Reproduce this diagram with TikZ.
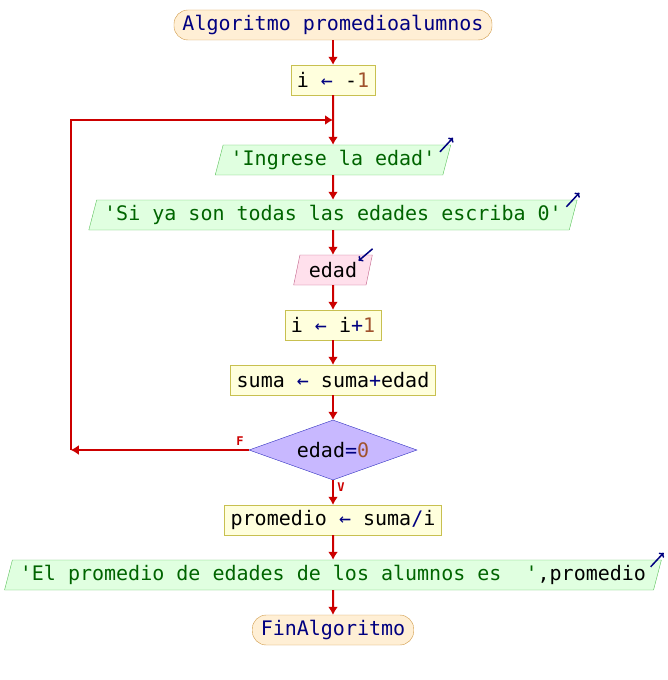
\documentclass[tikz,border=0pt]{standalone}
\usepackage{fontspec}
\setmonofont{DejaVu Sans Mono}
\usetikzlibrary{positioning, arrows.meta, shapes.geometric, calc}

\definecolor{flecha}{HTML}{CC0000}
\definecolor{azul}{HTML}{000080}
\definecolor{verde}{HTML}{006400}
\definecolor{cafe}{HTML}{A0522D}
\definecolor{rellenoini}{HTML}{FFEFD5}
\definecolor{bordeini}{HTML}{D09A48}
\definecolor{rellenoasig}{HTML}{FFFFDD}
\definecolor{bordeasig}{HTML}{C8C050}
\definecolor{rellenoesc}{HTML}{E0FFE0}
\definecolor{bordeesc}{HTML}{58C058}
\definecolor{rellenolee}{HTML}{FFE0EC}
\definecolor{bordelee}{HTML}{C06088}
\definecolor{rellenodec}{HTML}{C8B8FF}
\definecolor{bordedec}{HTML}{3030C0}

\begin{document}
\begin{tikzpicture}[
        x=1pt, y=1pt,
        inicio/.style={draw=bordeini, fill=rellenoini, rounded corners=14pt, minimum height=30pt, inner xsep=8.5pt, inner ysep=0pt, text=azul},
        asig/.style={draw=bordeasig, fill=rellenoasig, minimum height=30pt, inner xsep=6pt, inner ysep=0pt},
        escribir/.style={trapezium, trapezium left angle=68, trapezium right angle=112, trapezium stretches body, draw=bordeesc, fill=rellenoesc, minimum height=30pt, inner xsep=7.5pt, inner ysep=0pt, text=verde},
        leer/.style={trapezium, trapezium left angle=68, trapezium right angle=112, trapezium stretches body, draw=bordelee, fill=rellenolee, minimum height=30pt, inner xsep=9pt, inner ysep=0pt},
        decision/.style={diamond, aspect=3, draw=bordedec, fill=rellenodec, minimum width=168pt, minimum height=60pt, inner sep=0pt},
        flujo/.style={->, draw=flecha, line width=2pt},
        icono/.style={-{To[length=4pt,width=7pt]}, draw=azul, line width=1.5pt},
        etiq/.style={text=flecha, font=\ttfamily\bfseries\fontsize{12}{12}\selectfont},
        node distance=24.6pt, >={Latex[length=8pt,width=10pt]}, font=\ttfamily\fontsize{20}{24}\selectfont]

        \useasboundingbox (0,0) rectangle (668,680);

        % Nodos del diagrama
        \node (ini) [inicio] at (333,655) {Algoritmo promedioalumnos};
        \node (a1) [asig, below=of ini] {i \textcolor{azul}{←} -\textcolor{cafe}{1}};
        \node (e1) [escribir, below=49.6pt of a1] {'Ingrese la edad'};
        \node (e2) [escribir, below=of e1] {'Si ya son todas las edades escriba 0'};
        \node (l1) [leer, below=of e2] {edad};
        \node (a2) [asig, below=of l1] {i \textcolor{azul}{←} i\textcolor{azul}{+}\textcolor{cafe}{1}};
        \node (a3) [asig, below=of a2] {suma \textcolor{azul}{←} suma\textcolor{azul}{+}edad};
        \node (cond) [decision, below=of a3] {edad\textcolor{azul}{=}\textcolor{cafe}{0}};
        \node (a4) [asig, below=of cond] {promedio \textcolor{azul}{←} suma\textcolor{azul}{/}i};
        \node (e3) [escribir, below=of a4] {'El promedio de edades de los alumnos es~~'\textcolor{black}{,promedio}};
        \node (fin) [inicio, below=of e3] {FinAlgoritmo};

        % Conexiones
        \draw[flujo] (ini) -- (a1);
        \draw[flujo] (a1) -- (e1);
        \draw[flujo] (e1) -- (e2);
        \draw[flujo] (e2) -- (l1);
        \draw[flujo] (l1) -- (a2);
        \draw[flujo] (a2) -- (a3);
        \draw[flujo] (a3) -- (cond);
        \draw[flujo] (cond) -- node[etiq, pos=0.3, right] {V} (a4);
        \draw[flujo] (a4) -- (e3);
        \draw[flujo] (e3) -- (fin);

        % Ciclo
        \coordinate (vuelta) at ($(a1.south)!0.5!(e1.north)$);
        \coordinate (izq) at ($(cond.west)+(-178,0)$);
        \draw[flujo] (cond.west) -- node[etiq, pos=0.05, above] {F} (izq);
        \draw[flujo] (izq) |- (vuelta);

        % Iconos de entrada/salida
        \draw[icono] ($(e1.top right corner)+(-11,-7)$) -- ($(e1.top right corner)+(2,7)$);
        \draw[icono] ($(e2.top right corner)+(-11,-7)$) -- ($(e2.top right corner)+(2,7)$);
        \draw[icono] ($(e3.top right corner)+(-11,-7)$) -- ($(e3.top right corner)+(2,7)$);
        \draw[icono] ($(l1.top right corner)+(0,6)$) -- ($(l1.top right corner)+(-14,-6)$);

\end{tikzpicture}
\end{document}
